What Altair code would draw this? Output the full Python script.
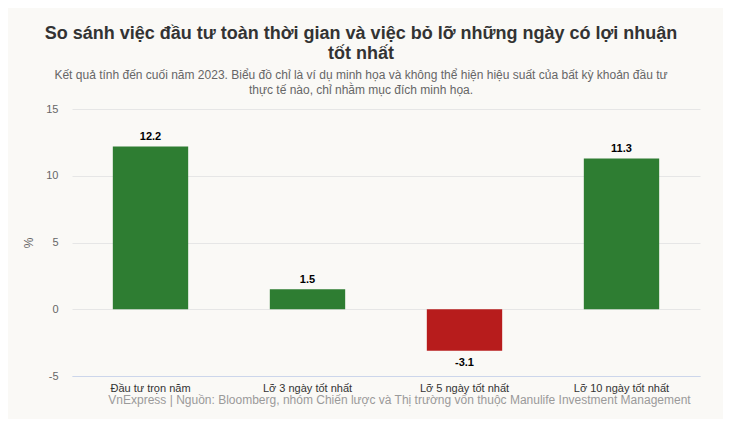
import altair as alt
import pandas as pd

categories = ["Đầu tư trọn năm", "Lỡ 3 ngày tốt nhất", "Lỡ 5 ngày tốt nhất", "Lỡ 10 ngày tốt nhất"]
values = [12.2, 1.5, -3.1, 11.3]
y_ticks = [-5, 0, 5, 10, 15]

df = pd.DataFrame({"cat": categories, "val": values})
df["label"] = df["val"].map(lambda v: f"{v:.1f}")

FONT = "Liberation Sans"

x_enc = alt.X(
    "cat:N",
    sort=categories,
    scale=alt.Scale(paddingInner=0.52, paddingOuter=0.26),
    axis=alt.Axis(
        title="VnExpress | Nguồn: Bloomberg, nhóm Chiến lược và Thị trường vốn thuộc Manulife Investment Management",
        titleFont=FONT, titleFontSize=12, titleFontWeight="normal", titleColor="#9a9a9a",
        titlePadding=1, titleX=327,
        labelAngle=0, labelFont=FONT, labelFontSize=11, labelColor="#333333", labelPadding=6,
        ticks=False, domainColor="#ccd6eb", domainWidth=1,
    ),
)

bars = alt.Chart(df).mark_bar().encode(
    x=x_enc,
    y=alt.Y(
        "val:Q",
        scale=alt.Scale(domain=[-5, 15], nice=False),
        axis=alt.Axis(
            values=y_ticks, title="%", titleFont=FONT, titleFontSize=12, titleFontWeight="normal",
            titleColor="#666666", titleX=-37, titlePadding=0,
            labelExpr="'' + datum.value",
            labelFont=FONT, labelFontSize=11, labelColor="#666666", labelPadding=14,
            ticks=False, domain=False, gridColor="#e6e6e6",
        ),
    ),
    color=alt.condition(alt.datum.val >= 0, alt.value("#2e7d32"), alt.value("#b71c1c")),
)

pos_text = alt.Chart(df).transform_filter(alt.datum.val >= 0).mark_text(
    dy=-9, font=FONT, fontSize=11, fontWeight="bold", color="#000000"
).encode(x=alt.X("cat:N", sort=categories), y="val:Q", text="label:N")

neg_text = alt.Chart(df).transform_filter(alt.datum.val < 0).mark_text(
    dy=12, font=FONT, fontSize=11, fontWeight="bold", color="#000000"
).encode(x=alt.X("cat:N", sort=categories), y="val:Q", text="label:N")

chart = alt.layer(bars, pos_text, neg_text).properties(
    width=628,
    height=267,
    background="#faf9f6",
    padding={"left": 64, "top": 101, "right": 23, "bottom": 43},
    autosize=alt.AutoSizeParams(type="none"),
    title=alt.Title(
        text=["So sánh việc đầu tư toàn thời gian và việc bỏ lỡ những ngày có lợi nhuận", "tốt nhất"],
        subtitle=["Kết quả tính đến cuối năm 2023. Biểu đồ chỉ là ví dụ minh họa và không thể hiện hiệu suất của bất kỳ khoản đầu tư",
                  "thực tế nào, chỉ nhằm mục đích minh họa."],
        font=FONT, fontSize=18, fontWeight="bold", color="#333333", lineHeight=20,
        subtitleFont=FONT, subtitleFontSize=12, subtitleColor="#666666", subtitleLineHeight=15,
        subtitlePadding=7, anchor="middle", frame="bounds", offset=7,
    ),
).configure_view(stroke=None)

chart.save("out.html", embed_options={"renderer": "svg", "actions": False})
